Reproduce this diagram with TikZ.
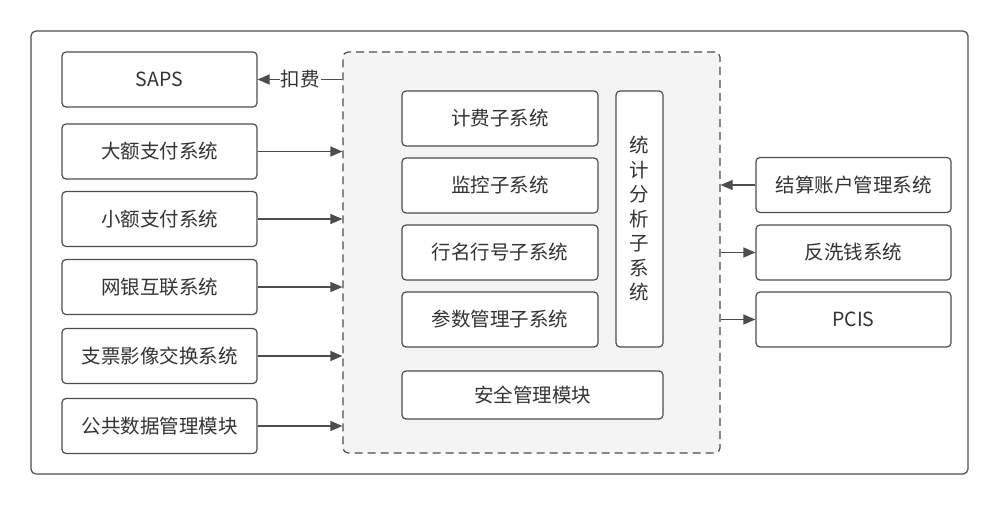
\documentclass[tikz,border=0pt]{standalone}
\usepackage{fontspec}
\setmainfont{Noto Sans CJK SC}
\usetikzlibrary{arrows.meta}
\definecolor{strk}{HTML}{4D4D4D}
\definecolor{txt}{HTML}{333333}
\definecolor{panel}{HTML}{F4F4F4}
\tikzset{
  x=1pt, y=-1pt,
  sysbox/.style={draw=strk, line width=1.2pt, rounded corners=4pt, fill=white,
    inner sep=0pt, text=txt, font=\fontsize{19.5}{24.5}\selectfont, align=center},
  conn/.style={draw=strk, line width=1.2pt, -{Triangle[length=12pt,width=10pt]}},
  lbl/.style={fill=white, inner sep=1pt, text=txt, font=\fontsize{19.5}{24.5}\selectfont}
}
\begin{document}
\begin{tikzpicture}
\useasboundingbox (0,0) rectangle (1000,506);
\fill[white] (0,0) rectangle (1000,506);
% outer frame
\node[draw=strk, line width=1.2pt, rounded corners=5pt, minimum width=937pt, minimum height=443pt, inner sep=0pt] (outer) at (499.5,252.5) {};
% dashed panel
\node[draw=strk, line width=1.2pt, rounded corners=5pt, fill=panel, dash pattern=on 8pt off 5pt, minimum width=377pt, minimum height=401pt, inner sep=0pt] (dash) at (531.5,252.5) {};
% left boxes
\node[sysbox, minimum width=195pt, minimum height=55pt] (saps) at (159.5,79.5) {SAPS};
\node[sysbox, minimum width=195pt, minimum height=55pt] (hvps) at (159.5,151.5) {大额支付系统};
\node[sysbox, minimum width=195pt, minimum height=55pt] (beps) at (159.5,219) {小额支付系统};
\node[sysbox, minimum width=195pt, minimum height=55pt] (ibps) at (159.5,287) {网银互联系统};
\node[sysbox, minimum width=195pt, minimum height=55pt] (ccms) at (159.5,356) {支票影像交换系统};
\node[sysbox, minimum width=195pt, minimum height=55pt] (pub) at (159.5,426) {公共数据管理模块};
% inner boxes
\node[sysbox, minimum width=196pt, minimum height=55pt] (fee) at (500,118.5) {计费子系统};
\node[sysbox, minimum width=196pt, minimum height=55pt] (mon) at (500,185.5) {监控子系统};
\node[sysbox, minimum width=196pt, minimum height=55pt] (bank) at (500,252.5) {行名行号子系统};
\node[sysbox, minimum width=196pt, minimum height=55pt] (param) at (500,319.5) {参数管理子系统};
\node[sysbox, minimum width=47pt, minimum height=256pt] (stat) at (639.5,219) {统\\计\\分\\析\\子\\系\\统};
\node[sysbox, minimum width=261pt, minimum height=48pt] (sec) at (532.5,395) {安全管理模块};
% right boxes
\node[sysbox, minimum width=195pt, minimum height=55pt] (acct) at (853.5,185) {结算账户管理系统};
\node[sysbox, minimum width=195pt, minimum height=55pt] (aml) at (853.5,252.5) {反洗钱系统};
\node[sysbox, minimum width=195pt, minimum height=55pt] (pcis) at (853.5,319.5) {PCIS};
% connectors
\draw[conn] (dash.west |- saps.east) -- node[lbl] {扣费} (saps.east);
\draw[conn] (hvps.east) -- (hvps.east -| dash.west);
\draw[conn] (beps.east) -- (beps.east -| dash.west);
\draw[conn] (ibps.east) -- (ibps.east -| dash.west);
\draw[conn] (ccms.east) -- (ccms.east -| dash.west);
\draw[conn] (pub.east) -- (pub.east -| dash.west);
\draw[conn] (acct.west) -- (acct.west -| dash.east);
\draw[conn] (aml.west -| dash.east) -- (aml.west);
\draw[conn] (pcis.west -| dash.east) -- (pcis.west);
\end{tikzpicture}
\end{document}
